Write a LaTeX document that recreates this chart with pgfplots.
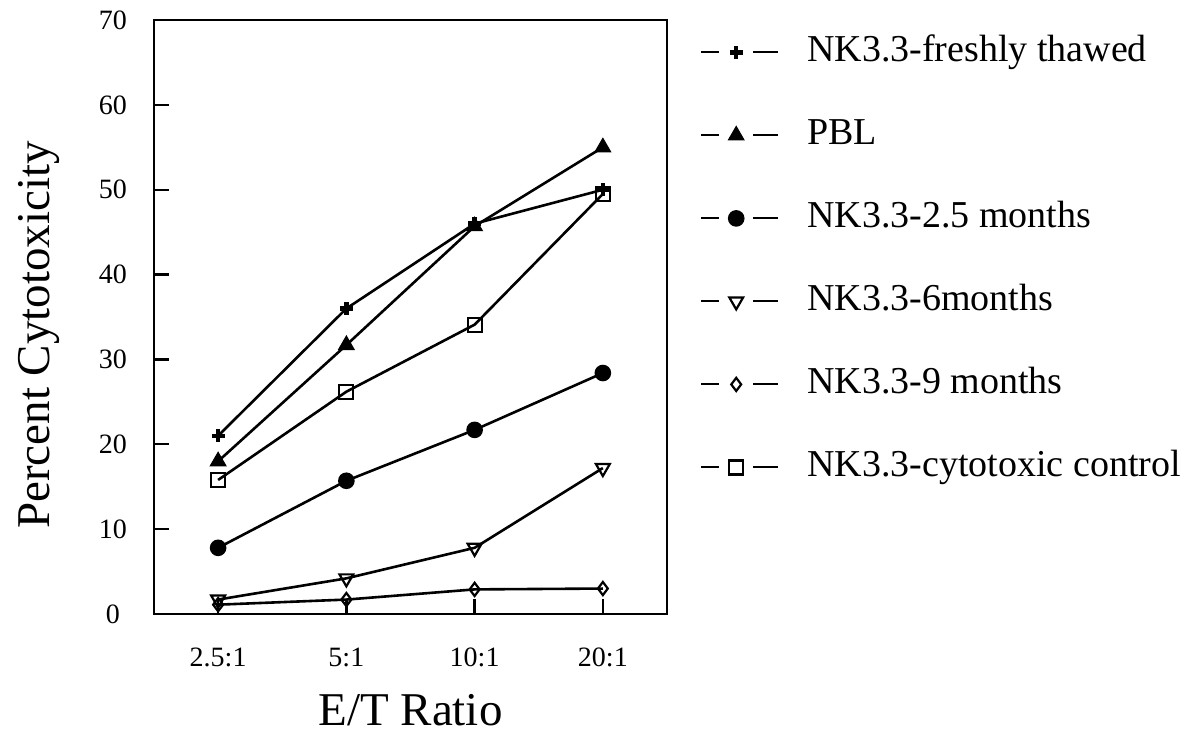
\documentclass[border=0pt]{standalone}
\usepackage{fontspec}
\setmainfont{Liberation Serif}
\usepackage{pgfplots}
\pgfplotsset{compat=1.18}
\begin{document}
\begin{tikzpicture}
\path[use as bounding box] (0,0) rectangle (592.5pt,368pt);
\begin{axis}[
  at={(77pt,61pt)}, anchor=south west,
  scale only axis, width=256.5pt, height=297pt,
  xmin=-0.5, xmax=3.5, ymin=0, ymax=70,
  xtick={0,1,2,3}, xticklabels={2.5:1,5:1,10:1,20:1},
  ytick={0,10,20,30,40,50,60,70},
  tick pos=left, tick align=inside,
  major tick length=7.5pt,
  axis line style={line width=1.3pt},
  every tick/.style={black, line width=1.2pt},
  /pgf/number format/assume math mode=true,
  tick label style={font=\fontsize{14}{16}\selectfont},
  yticklabel style={anchor=center, xshift=-20.5pt},
  xticklabel style={anchor=center, yshift=-21.5pt},
  xlabel={E/T Ratio},
  ylabel={Percent Cytotoxicity},
  label style={font=\fontsize{23.5}{27}\selectfont},
  xlabel style={at={(axis description cs:0.5,0)}, anchor=center, yshift=-48pt},
  ylabel style={at={(axis description cs:-0.225,0.47)}, anchor=center},
  every axis plot/.append style={black, line width=1.3pt},
  legend cell align=left,
  legend image code/.code={
    \draw[#1, mark=none, line width=1pt] (0pt,0pt) -- (9pt,0pt);
    \draw[#1, mark=none, line width=1pt] (26pt,0pt) -- (38.5pt,0pt);
    \draw[#1] plot coordinates {(17.5pt,0pt)};
  },
  legend style={at={(axis description cs:1.064,0.9815)}, anchor=north west,
    draw=none, fill=none, inner sep=0pt, row sep=20.5pt,
    font=\fontsize{19}{23}\selectfont,
    nodes={inner xsep=0pt, inner ysep=2pt, text height=13pt, text depth=4pt},
    /tikz/every odd column/.append style={column sep=14pt}},
]
\addplot[mark=+, mark size=3.3pt, mark options={line width=2.2pt}] coordinates {(0,21) (1,36) (2,46) (3,50)};
\addlegendentry{NK3.3-freshly thawed}
\addplot[mark=triangle*, mark size=4.5pt, mark options={line width=0.5pt}] coordinates {(0,18) (1,31.7) (2,45.7) (3,55)};
\addlegendentry{PBL}
\addplot[mark=*, mark size=3.5pt] coordinates {(0,7.8) (1,15.7) (2,21.7) (3,28.4)};
\addlegendentry{NK3.3-2.5 months}
\addplot[mark=triangle, mark size=4pt, mark options={rotate=180, fill=white, line width=1.1pt}] coordinates {(0,1.7) (1,4.2) (2,7.8) (3,17.2)};
\addlegendentry{NK3.3-6months}
\addplot[mark=diamond, mark size=3.3pt, mark options={fill=white, line width=1.1pt}] coordinates {(0,1.1) (1,1.7) (2,2.9) (3,3.0)};
\addlegendentry{NK3.3-9 months}
\addplot[mark=square, mark size=3.5pt, mark options={fill=white, line width=1.1pt}] coordinates {(0,15.8) (1,26.2) (2,34.1) (3,49.5)};
\addlegendentry{NK3.3-cytotoxic control}
\end{axis}
\end{tikzpicture}
\end{document}
